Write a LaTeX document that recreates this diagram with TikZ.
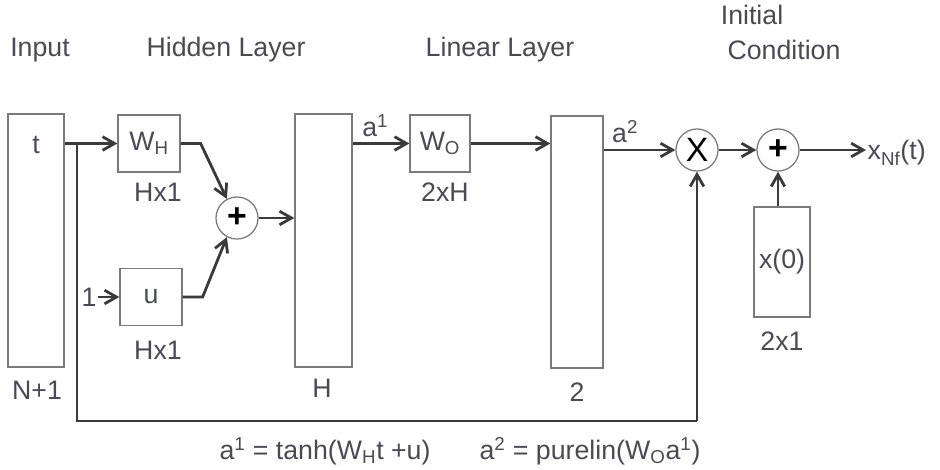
\documentclass[tikz,border=0pt]{standalone}
\usepackage{fontspec}
\setmainfont{Liberation Sans}
\usepackage{tikz}
\usetikzlibrary{arrows.meta}
\definecolor{inkgray}{HTML}{3A3A3A}
\definecolor{boxgray}{HTML}{7A7A7A}
\definecolor{labelgray}{HTML}{4A4A55}
\tikzset{
  layerbox/.style={draw=boxgray, line width=0.9pt, minimum width=1.4cm, minimum height=6.325cm, inner sep=0pt},
  weightbox/.style={draw=boxgray, line width=0.9pt, minimum width=1.55cm, minimum height=1.425cm, inner sep=0pt},
  sumnode/.style={draw=boxgray, circle, line width=0.9pt, minimum size=1.05cm, inner sep=0pt, font=\fontsize{24}{24}\selectfont},
  tag/.style={text=labelgray, font=\fontsize{19}{22}\selectfont, inner sep=1pt},
  arrow/.style={-{Straight Barb[length=3mm,width=3.4mm]}, line width=2pt, draw=inkgray},
  wire/.style={line width=2pt, draw=inkgray}
}
\begin{document}
\begin{tikzpicture}[x=0.025cm, y=-0.025cm, font=\fontsize{19}{22}\selectfont]
  \useasboundingbox (0,0) rectangle (940,469);

  % headings
  \node[tag] (hin) at (40,50) {Input};
  \node[tag] (hhid) at (226,50) {Hidden Layer};
  \node[tag] (hlin) at (500,50) {Linear Layer};
  \node[tag] (hini) at (752,15) {Initial};
  \node[tag] (hcon) at (784,50) {Condition};

  % layers
  \node[layerbox] (in) at (36,240.5) {};
  \node[tag] at (36,145) {t};
  \node[tag] (nin) at (37,390) {N+1};

  \node[weightbox] (wh) at (149,143.5) {\textcolor{labelgray}{W\textsubscript{H}}};
  \node[tag] (dwh) at (158,192) {Hx1};
  \node[weightbox] (u) at (151,297) {\textcolor{labelgray}{u}};
  \node[tag] (du) at (158,350) {Hx1};
  \node[tag] (one) at (89,297) {1};

  \node[sumnode] (plus) at (237,218) {\textbf{+}};

  \node[layerbox, minimum width=1.425cm] (hid) at (323.5,240.5) {};
  \node[tag] (dhid) at (322,388) {H};

  \node[weightbox, minimum width=1.5cm] (wo) at (440,143.5) {\textcolor{labelgray}{W\textsubscript{O}}};
  \node[tag] (dwo) at (445,192) {2xH};

  \node[layerbox, minimum width=1.3cm, minimum height=6.3cm] (lin) at (577,242) {};
  \node[tag] (dlin) at (577,392) {2};

  \node[sumnode] (mult) at (697,150) {X};
  \node[sumnode] (plustwo) at (778,150) {\textbf{+}};

  \node[layerbox, minimum height=2.75cm] (xz) at (782,262) {\textcolor{labelgray}{x(0)}};
  \node[tag] (dxz) at (782,341) {2x1};

  \node[tag, anchor=west] (out) at (866,153) {x\textsubscript{Nf}(t)};

  % connectors
  \coordinate (split) at (77,143.5);
  \draw[arrow] (in.east |- wh) -- (wh);
  \draw[arrow] (one) -- (u);
  \draw[arrow] (wh.east) -- ++(20,0) -- (plus.118);
  \draw[arrow] (u.east) -- ++(20,0) -- (plus.242);
  \draw[arrow] (plus) -- (hid.west |- plus);
  \draw[arrow] (hid.east |- wo) -- node[tag, above=3pt, pos=0.4] {a\textsuperscript{1}} (wo);
  \draw[arrow] (wo) -- (lin.west |- wo);
  \draw[arrow] (lin.east |- mult) -- node[tag, above=3pt, pos=0.3] {a\textsuperscript{2}} (mult);
  \draw[arrow] (mult) -- (plustwo);
  \draw[arrow] (plustwo) -- (plustwo -| out.west);
  \draw[arrow] (xz.north -| plustwo) -- (plustwo);
  \draw[wire] (split) -- (77,421) -- (mult |- 0,421);
  \draw[arrow] (mult |- 0,421) -- (mult);

  % equations
  \node[tag] (eqa) at (325,451) {a\textsuperscript{1} = tanh(W\textsubscript{H}t +u)};
  \node[tag] (eqb) at (590,451) {a\textsuperscript{2} = purelin(W\textsubscript{O}a\textsuperscript{1})};
\end{tikzpicture}
\end{document}
